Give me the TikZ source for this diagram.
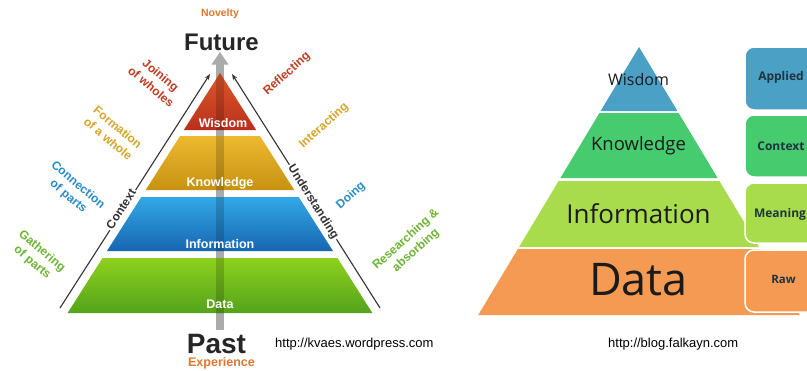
\documentclass[tikz,border=0pt]{standalone}
\usepackage{fontspec}
\setmainfont{Liberation Sans}
\newfontfamily\osfont{Open Sans}
\usetikzlibrary{arrows.meta}
\definecolor{cred}{HTML}{C23B22}
\definecolor{cgold}{HTML}{D4A52A}
\definecolor{cblue}{HTML}{2B8CC8}
\definecolor{cgreen}{HTML}{6CB434}
\definecolor{corange}{HTML}{E07832}
\definecolor{shaftgray}{HTML}{ABABAB}
\definecolor{linegray}{HTML}{333333}
\definecolor{rblue}{HTML}{4BA0C6}
\definecolor{rgreen}{HTML}{47CB6F}
\definecolor{rlime}{HTML}{A9DC4D}
\definecolor{rorange}{HTML}{F49A52}
\definecolor{rtext}{HTML}{1B1B1B}
\definecolor{btext}{HTML}{1F3340}
\definecolor{wtop}{HTML}{E0582B}
\definecolor{wbot}{HTML}{B8301C}
\definecolor{ktop}{HTML}{EDB92F}
\definecolor{kbot}{HTML}{C79212}
\definecolor{itop}{HTML}{33A8E6}
\definecolor{ibot}{HTML}{1766B2}
\definecolor{dtop}{HTML}{8ED11E}
\definecolor{dbot}{HTML}{54A31B}
\newcommand\pyrband[3]{%
  \shade[top color=#2,bottom color=#3] #1;
  \begin{scope}\clip #1;
    \fill[black,opacity=.17] (216,0) rectangle (224,370);
  \end{scope}}
\begin{document}
\begin{tikzpicture}[x=1pt,y=-1pt,
  lab/.style={font=\bfseries\fontsize{12}{15}\selectfont,align=center,inner sep=0pt},
  bandlab/.style={font=\bfseries\fontsize{12.5}{14}\selectfont,text=white,anchor=base,inner sep=0pt},
  conn/.style={draw=linegray,line width=1.1pt,-{Stealth[length=6pt,width=4.5pt]}},
  linelab/.style={font=\bfseries\fontsize{12}{13.5}\selectfont,fill=white,inner sep=1.5pt,text=linegray},
  rlab/.style={font=\osfont\fontsize{#1}{#1}\selectfont,text=rtext,anchor=base,inner sep=0pt},
  blab/.style={font=\osfont\bfseries\fontsize{#1}{#1}\selectfont,text=btext,anchor=base,inner sep=0pt},
  sidebox/.style={draw=white,line width=1.5pt,rounded corners=9pt},
  url/.style={font=\fontsize{13}{15}\selectfont,anchor=base west,inner sep=0pt}]
\useasboundingbox (0,0) rectangle (807,370);
\clip (0,0) rectangle (807,370);
\fill[white] (0,0) rectangle (807,370);

% ---------- left pyramid ----------
\fill[shaftgray] (216,63) rectangle (224,330);
\fill[shaftgray] (211.5,64.5) -- (228.5,64.5) -- (220,52) -- cycle;

\pyrband{(220,73) -- (256.2,130) -- (183.8,130) -- cycle}{wtop}{wbot}
\pyrband{(180,136) -- (260,136) -- (294.3,190) -- (145.7,190) -- cycle}{ktop}{kbot}
\pyrband{(141.3,197) -- (298.7,197) -- (333,251) -- (107,251) -- cycle}{itop}{ibot}
\pyrband{(102.5,258) -- (337.5,258) -- (372.4,313) -- (67.6,313) -- cycle}{dtop}{dbot}

\node[bandlab] (lwis) at (223,127) {Wisdom};
\node[bandlab] (lkno) at (220,186.5) {Knowledge};
\node[bandlab] (linf) at (220,248) {Information};
\node[bandlab] (ldat) at (220,308) {Data};

\coordinate (lb) at (60,308);
\coordinate (lt) at (210,74);
\coordinate (rb) at (380,308);
\coordinate (rt) at (232,74);
\draw[conn] (lb) -- (lt);
\draw[conn] (rb) -- (rt);
\node[linelab,rotate=57.4] (ctx) at (121,209) {Context};
\node[linelab,rotate=-57.8] (und) at (313,202) {Understanding};

\node[lab,text=cgreen,rotate=-40] (gath) at (37,257) {Gathering\\of parts};
\node[lab,text=cblue,rotate=-40] (cnx) at (73,191) {Connection\\of parts};
\node[lab,text=cgold,rotate=-40] (form) at (113,133) {Formation\\of a whole};
\node[lab,text=cred,rotate=-40] (join) at (156,81) {Joining\\of wholes};

\node[lab,text=cred,rotate=42] (refl) at (287,74) {Reflecting};
\node[lab,text=cgold,rotate=42] (inter) at (324,126) {Interacting};
\node[lab,text=cblue,rotate=42] (doing) at (351,196) {Doing};
\node[lab,text=cgreen,rotate=42] (res) at (411,245) {Researching \&\\absorbing};

\node[font=\bfseries\fontsize{10.5}{12}\selectfont,text=corange,anchor=base,inner sep=0pt] (nov) at (220,16.5) {Novelty};
\node[font=\bfseries\fontsize{24}{28}\selectfont,text=black!85,anchor=base,inner sep=0pt] (fut) at (221.5,50) {Future};
\node[font=\bfseries\fontsize{28}{30}\selectfont,text=black!85,anchor=base,inner sep=0pt] (past) at (216.5,353) {Past};
\node[font=\bfseries\fontsize{12.5}{14}\selectfont,text=corange,anchor=base,inner sep=0pt] (exp) at (221.5,366) {Experience};

\node[url] (u1) at (275,347) {http://kvaes.wordpress.com};

% ---------- right pyramid ----------
\fill[rblue] (639,47) -- (677.4,111) -- (600.6,111) -- cycle;
\fill[rgreen] (599.4,113) -- (678.6,113) -- (717.6,178) -- (560.4,178) -- cycle;
\fill[rlime] (558.6,181) -- (719.4,181) -- (759,247) -- (519,247) -- cycle;
\fill[rorange] (517.8,249) -- (760.2,249) -- (799.8,315) -- (478.2,315) -- cycle;

\node[rlab=16] (rwis) at (638.5,85) {Wisdom};
\node[rlab=18.5] (rkno) at (638.5,150) {Knowledge};
\node[rlab=26] (rinf) at (638.5,223) {Information};
\node[rlab=45] (rdat) at (638.5,295) {Data};

\filldraw[sidebox,fill=rblue] (745,47) rectangle (830,110);
\filldraw[sidebox,fill=rgreen] (745,115) rectangle (830,177);
\filldraw[sidebox,fill=rlime] (745,183) rectangle (830,243);
\filldraw[sidebox,fill=rorange] (745,250) rectangle (830,312);

\node[blab=12] (bapp) at (781,80) {Applied};
\node[blab=12] (bctx) at (781,150) {Context};
\node[blab=12] (bmea) at (780,217) {Meaning};
\node[blab=11.5] (braw) at (783.5,283) {Raw};

\node[url] (u2) at (608,347) {http://blog.falkayn.com};
\end{tikzpicture}
\end{document}
